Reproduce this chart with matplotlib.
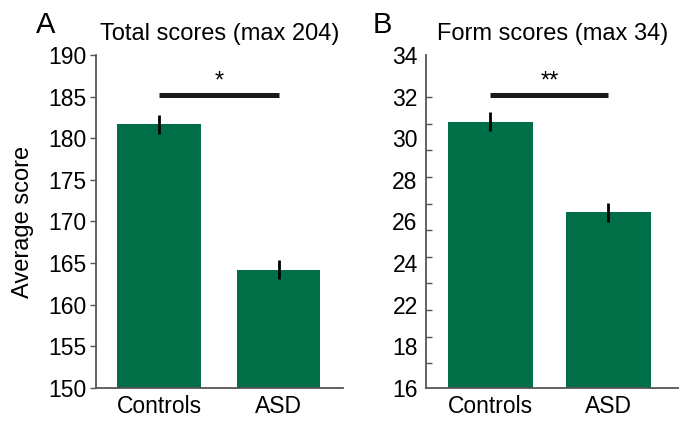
import matplotlib
matplotlib.use("Agg")
import matplotlib.pyplot as plt
import numpy as np

plt.rcParams['font.family'] = ['Liberation Sans', 'DejaVu Sans']

groups = ["Controls", "ASD"]
total_means = [181.7, 164.2]
total_errs = [1.15, 1.15]
form_means = [30.4, 25.5]
form_errs = [0.52, 0.51]

total_ticks = [150, 155, 160, 165, 170, 175, 180, 185, 190]
form_tick_labels = ["34", "32", "30", "28", "26", "24", "22", "18", "16"]
form_minor = [34.0, 31.73, 30.29, 28.85, 27.41, 25.97, 24.53, 23.09, 21.65, 20.21, 18.77, 17.33]

green = "#006F47"
spine_c = "#555555"

fig = plt.figure(figsize=(6.79, 4.22), dpi=100)
axA = fig.add_axes([96/679, 34/422, 247/679, 333/422])
axB = fig.add_axes([426/679, 34/422, 253/679, 333/422])

x = np.arange(len(groups))

def style(ax):
    for s in ["top", "right"]:
        ax.spines[s].set_visible(False)
    for s in ["left", "bottom"]:
        ax.spines[s].set_color(spine_c)
        ax.spines[s].set_linewidth(1.3)
    ax.tick_params(axis='x', length=0, labelsize=16.5, pad=5)

# Panel A
axA.bar(x, total_means, width=0.7, color=green, zorder=2)
axA.errorbar(x, total_means, yerr=total_errs, fmt='none', ecolor='black',
             elinewidth=2.0, capsize=0, zorder=3)
axA.set_ylim(150, 190)
axA.set_xlim(-0.53, 1.54)
axA.set_yticks(total_ticks)
axA.set_yticklabels([str(t) for t in total_ticks])
axA.set_xticks(x)
axA.set_xticklabels(groups)
style(axA)
axA.tick_params(axis='y', direction='out', length=4, width=1, color=spine_c,
                labelsize=16.5, pad=3)
axA.plot([0, 1], [185.2, 185.2], color='#1a1a1a', lw=3.6, solid_capstyle='butt', zorder=3)
axA.text(0.5, 185.5, "*", ha='center', va='bottom', fontsize=17)
axA.set_ylabel("Average score", fontsize=17, labelpad=10)
axA.set_title("Total scores (max 204)", fontsize=17, pad=11)

# Panel B
axB.bar(x, form_means, width=0.72, color=green, zorder=2)
axB.errorbar(x, form_means, yerr=form_errs, fmt='none', ecolor='black',
             elinewidth=2.0, capsize=0, zorder=3)
axB.set_ylim(16, 34)
axB.set_xlim(-0.543, 1.597)
axB.set_yticks(np.linspace(34, 16, len(form_tick_labels)))
axB.set_yticklabels(form_tick_labels)
axB.set_yticks(form_minor, minor=True)
axB.set_xticks(x)
axB.set_xticklabels(groups)
style(axB)
axB.tick_params(axis='y', which='major', length=0, labelsize=16.5, pad=6)
axB.tick_params(axis='y', which='minor', direction='in', length=4, width=1, color=spine_c)
axB.plot([0, 1], [31.84, 31.84], color='#1a1a1a', lw=3.6, solid_capstyle='butt', zorder=3)
axB.text(0.5, 31.98, "**", ha='center', va='bottom', fontsize=17)
axB.set_title("Form scores (max 34)", fontsize=17, pad=11)

fig.text(36/679, 1 - 33/422, "A", fontsize=21, ha='left', va='baseline')
fig.text(373/679, 1 - 33/422, "B", fontsize=21, ha='left', va='baseline')

fig.savefig("out.png", dpi=100)
